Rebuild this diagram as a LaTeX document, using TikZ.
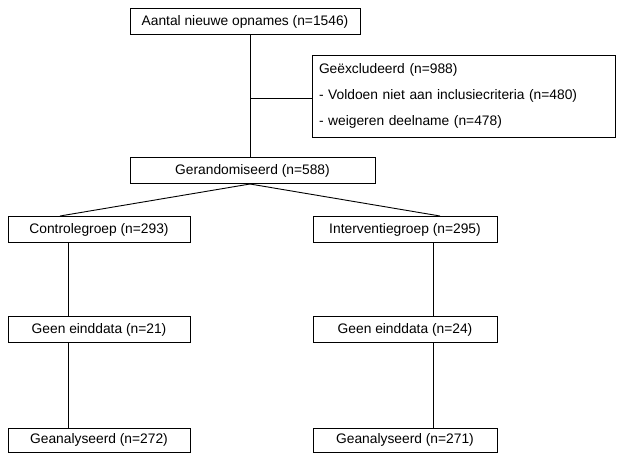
\documentclass[tikz,border=0pt]{standalone}
\usepackage{fontspec}
\setmainfont{Liberation Sans}
\usetikzlibrary{positioning}

\begin{document}
\begin{tikzpicture}[x=1pt, y=1pt,
        stapbox/.style={draw, line width=1pt, inner sep=0pt, minimum height=26,
            font=\fontsize{13.8}{16}\selectfont},
        verbind/.style={line width=0.9pt}]
    \useasboundingbox (0,0) rectangle (617,-452);

    % hoofdlijn
    \node[stapbox, minimum width=230] (opname) at (245,-22) {Aantal nieuwe opnames (n=1546)};
    \node[stapbox, minimum width=303, minimum height=82, text width=289, align=left,
          inner xsep=7, font=\fontsize{13.8}{26}\selectfont] (excl) at (463.5,-96)
          {Geëxcludeerd (n=988)\\- Voldoen niet aan inclusiecriteria (n=480)\\- weigeren deelname (n=478)};
    \node[stapbox, minimum width=245] (random) at (252.5,-170.5) {Gerandomiseerd (n=588)};

    % twee armen
    \node[stapbox, minimum width=182] (ctrl) at (99,-229.5) {Controlegroep (n=293)};
    \node[stapbox, minimum width=184] (interv) at (405,-229.5) {Interventiegroep (n=295)};
    \node[stapbox, minimum width=182] (geenC) at (99,-329.5) {Geen einddata (n=21)};
    \node[stapbox, minimum width=184] (geenI) at (405,-329.5) {Geen einddata (n=24)};
    \node[stapbox, minimum width=182, minimum height=24] (anaC) at (99,-440) {Geanalyseerd (n=272)};
    \node[stapbox, minimum width=184, minimum height=24] (anaI) at (405,-440) {Geanalyseerd (n=271)};

    % hulpcoordinaten
    \coordinate (mid) at (250,0);
    \coordinate (lx) at (68,0);
    \coordinate (rx) at (433,0);
    \coordinate (split) at (250,-98);

    % verbindingen
    \draw[verbind] (opname.south -| mid) -- (random.north -| mid);
    \draw[verbind] (split) -- (excl.west |- split);
    \draw[verbind] (random.south -| mid) -- ([xshift=-39]ctrl.north);
    \draw[verbind] (random.south -| mid) -- ([xshift=35]interv.north);
    \draw[verbind] (ctrl.south -| lx) -- (geenC.north -| lx);
    \draw[verbind] (geenC.south -| lx) -- (anaC.north -| lx);
    \draw[verbind] (interv.south -| rx) -- (geenI.north -| rx);
    \draw[verbind] (geenI.south -| rx) -- (anaI.north -| rx);
\end{tikzpicture}
\end{document}
